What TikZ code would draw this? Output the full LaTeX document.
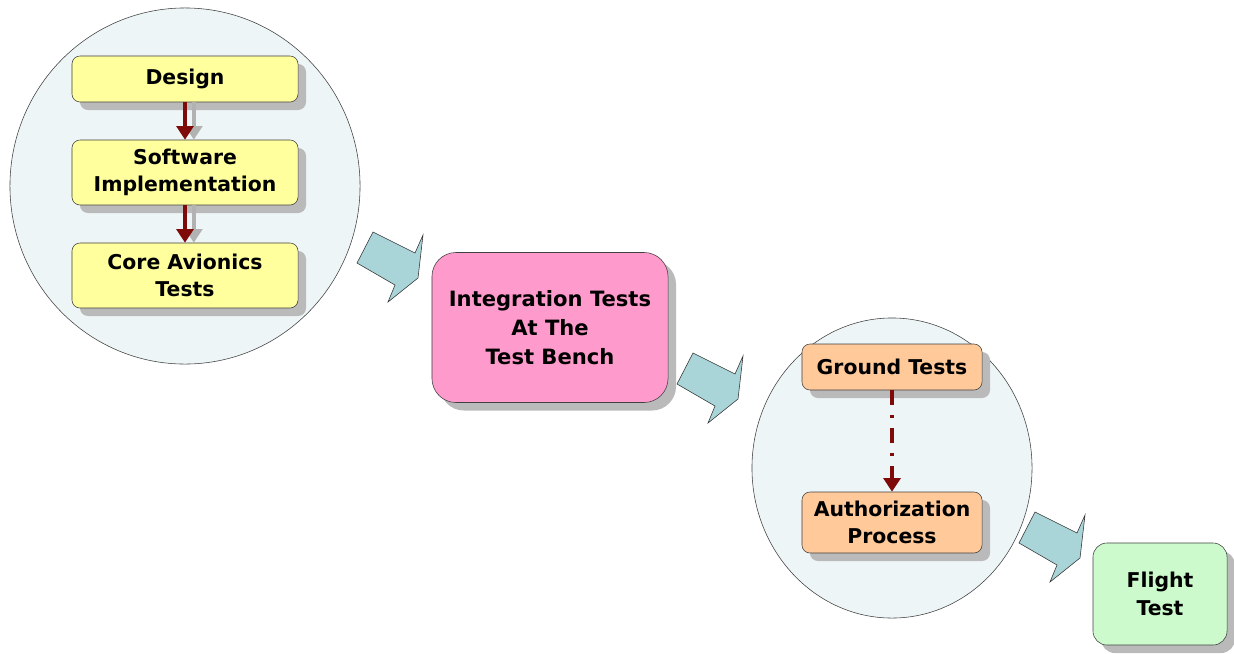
\documentclass[tikz,border=0pt]{standalone}
\usepackage{fontspec}
\setmainfont{DejaVu Sans}
\usetikzlibrary{shapes, arrows.meta, positioning, shadows}
\definecolor{zonafondo}{HTML}{EEF5F7}
\definecolor{amarillo}{HTML}{FFFF9E}
\definecolor{rosa}{HTML}{FF9ACC}
\definecolor{naranja}{HTML}{FFC999}
\definecolor{verde}{HTML}{CCFACC}
\definecolor{celeste}{HTML}{A9D5D9}
\definecolor{granate}{HTML}{7E0A0A}
\tikzstyle{zona} = [draw=black!75, fill=zonafondo, ellipse, thin, inner sep=0pt]
\tikzstyle{etapa} = [draw=black!75, thin, rectangle, rounded corners=0.2cm, align=center, font=\bfseries\fontsize{14.5}{19.5}\selectfont, drop shadow={shadow xshift=0.2cm, shadow yshift=-0.2cm, fill=black!27, opacity=1}]
\tikzstyle{paso} = [draw=granate, line width=2.7pt, -{Triangle[width=0.42cm,length=0.34cm]}]
\tikzstyle{pasosombra} = [draw=black!30, line width=2.7pt, -{Triangle[width=0.42cm,length=0.34cm]}]
\tikzstyle{grande} = [draw=black!80, fill=celeste, thin, line join=miter]
\newcommand{\bloque}[1]{\draw[grande] (#1) -- ++(42,21) -- ++(8,-18) -- ++(-5,43) -- ++(-30,24) -- ++(7,-17) -- ++(-38,-22) -- cycle;}

\begin{document}
\begin{tikzpicture}[x=0.025cm, y=-0.025cm]
	\useasboundingbox (0,0) rectangle (1234,653);
	% primera etapa
	\node [zona, minimum width=8.75cm, minimum height=8.9cm] (grupo1) at (185,186) {};
	\node [etapa, fill=amarillo, minimum width=5.65cm, minimum height=1.15cm] (diseno) at (185,79) {Design};
	\node [etapa, fill=amarillo, minimum width=5.65cm, minimum height=1.625cm] (software) at (185,172.5) {Software\\Implementation};
	\node [etapa, fill=amarillo, minimum width=5.65cm, minimum height=1.625cm] (avionica) at (185,275.5) {Core Avionics\\Tests};
	\draw[pasosombra] ([xshift=0.22cm]diseno.south) -- ([xshift=0.22cm]software.north);
	\draw[pasosombra] ([xshift=0.22cm]software.south) -- ([xshift=0.22cm]avionica.north);
	\draw[paso] (diseno) -- (software);
	\draw[paso] (software) -- (avionica);
	% banco de pruebas
	\node [etapa, fill=rosa, rounded corners=0.6cm, minimum width=5.9cm, minimum height=3.75cm, font=\bfseries\fontsize{15}{20.5}\selectfont] (banco) at (550,327.5) {Integration Tests\\At The\\Test Bench};
	% segunda etapa
	\node [zona, minimum width=7cm, minimum height=7.5cm] (grupo2) at (892,468) {};
	\node [etapa, fill=naranja, minimum width=4.5cm, minimum height=1.15cm] (tierra) at (892,367) {Ground Tests};
	\node [etapa, fill=naranja, minimum width=4.5cm, minimum height=1.525cm] (autorizacion) at (892,522.5) {Authorization\\Process};
	\draw[paso, dash pattern=on 0.375cm off 0.25cm on 0.075cm off 0.25cm] (tierra) -- (autorizacion);
	% vuelo
	\node [etapa, fill=verde, rounded corners=0.35cm, minimum width=3.35cm, minimum height=2.55cm] (vuelo) at (1160,594) {Flight\\Test};
	% flechas grandes
	\coordinate (f1) at (373,232);
	\coordinate (f2) at (693,353);
	\coordinate (f3) at (1035,512);
	\bloque{f1}
	\bloque{f2}
	\bloque{f3}
\end{tikzpicture}
\end{document}
